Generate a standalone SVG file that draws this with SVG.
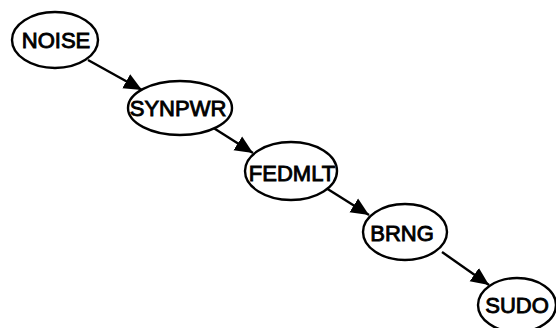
<svg xmlns="http://www.w3.org/2000/svg" width="556" height="328" viewBox="0 0 556 328">
<defs>
<marker id="ah" viewBox="0 0 10 10" refX="10" refY="5" markerWidth="7.5" markerHeight="7.5" orient="auto" markerUnits="strokeWidth">
<path d="M0,0.5 L10,5 L0,9.5 Z" fill="#000"/>
</marker>
<style>
.n ellipse{fill:#fff;stroke:#000;stroke-width:2.4}
.n text{font-family:"Liberation Sans",Arial,sans-serif;font-size:22px;fill:#000;stroke:#000;stroke-width:0.9;text-anchor:middle}
.e line{stroke:#000;stroke-width:2.4;marker-end:url(#ah)}
</style>
</defs>
<rect width="556" height="328" fill="#fff"/>
<g class="e">
<line x1="88" y1="60" x2="142" y2="90"/>
<line x1="212" y1="127" x2="253" y2="153"/>
<line x1="326" y1="188" x2="369" y2="215"/>
<line x1="442" y1="252" x2="489" y2="285"/>
</g>
<g class="n" id="noise"><ellipse cx="55" cy="40" rx="43" ry="28"/><text x="56" y="48">NOISE</text></g>
<g class="n" id="synpwr"><ellipse cx="180" cy="108" rx="52" ry="27"/><text x="178" y="116">SYNPWR</text></g>
<g class="n" id="fedmlt"><ellipse cx="291" cy="171" rx="46" ry="29"/><text x="292" y="181">FEDMLT</text></g>
<g class="n" id="brng"><ellipse cx="405" cy="232" rx="42" ry="28"/><text x="402" y="241">BRNG</text></g>
<g class="n" id="sudo"><ellipse cx="517" cy="305" rx="39" ry="27"/><text x="517" y="313">SUDO</text></g>
</svg>
